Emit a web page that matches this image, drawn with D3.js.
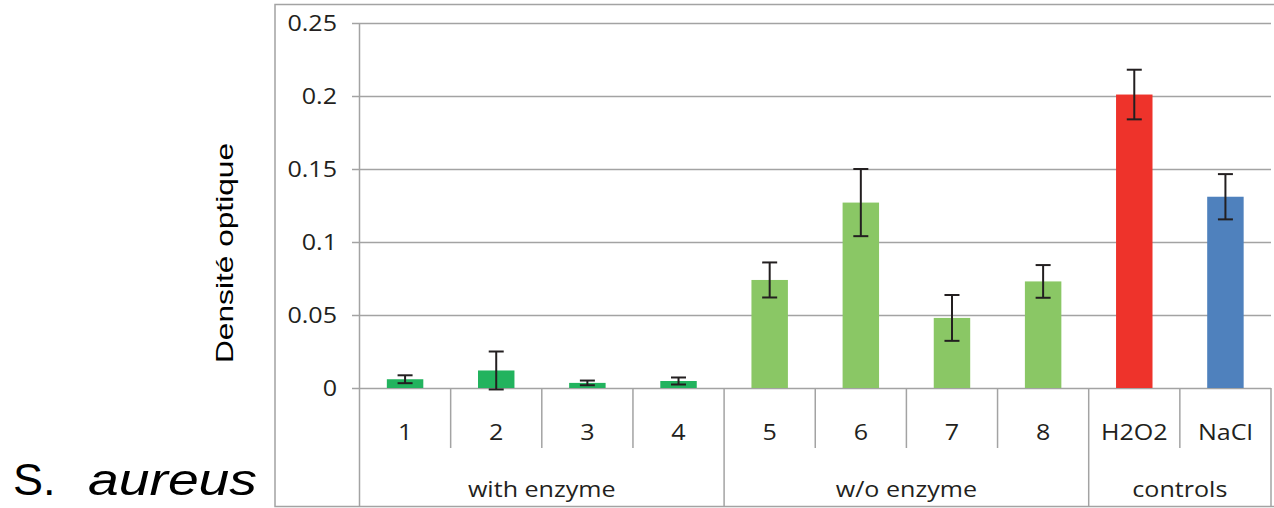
<!DOCTYPE html>
<html>
<head>
<meta charset="utf-8">
<script src="https://cdn.jsdelivr.net/npm/d3@7"></script>
<style>
  html, body { margin: 0; padding: 0; background: #fff; }
  svg { display: block; }
</style>
</head>
<body>
<svg id="chart" width="1274" height="508"></svg>
<script>
// ---- data ----
const categories = ["1", "2", "3", "4", "5", "6", "7", "8", "H2O2", "NaCl"];
const values     = [0.006, 0.012, 0.0035, 0.0048, 0.074, 0.127, 0.048, 0.073, 0.201, 0.131];
const errors     = [0.0027, 0.013, 0.0016, 0.0024, 0.012, 0.023, 0.0157, 0.0112, 0.017, 0.0155];
const groupOf    = [0, 0, 0, 0, 1, 1, 1, 1, 2, 2];
const groups     = ["with enzyme", "w/o enzyme", "controls"];
const yTicks     = [0, 0.05, 0.1, 0.15, 0.2, 0.25];
const yTickLabels = ["0", "0.05", "0.1", "0.15", "0.2", "0.25"];
const yTitle = "Densité optique";
const species = ["S.", "aureus"];

// ---- styles ----
const barColors = ["#22B35E", "#22B35E", "#22B35E", "#22B35E",
                   "#8AC765", "#8AC765", "#8AC765", "#8AC765",
                   "#EE332B", "#4F81BD"];
const gridColor = "#A3A3A3";
const textColor = "#231F20";
const labelFont = "'Open Sans', sans-serif";
const stretch = 1.14;

const svg = d3.select("#chart");

const left = 359.5, right = 1271, y0 = 388, yTop = 23;
const frameTop = 4.5, frameBottom = 506.5, frameLeft = 275;
const row1Bottom = 448;

// outer frame
svg.append("rect")
  .attr("x", frameLeft).attr("y", frameTop)
  .attr("width", 1290 - frameLeft).attr("height", frameBottom - frameTop)
  .attr("fill", "none").attr("stroke", gridColor).attr("stroke-width", 1.5);

const x = d3.scaleBand().domain(categories).range([left, right])
  .paddingInner(0.6).paddingOuter(0.3);
const step = x.step();
const y = d3.scaleLinear().domain([0, 0.25]).range([y0, yTop]);

function stretchText(sel) {
  sel.each(function () {
    const len = this.getComputedTextLength();
    d3.select(this).attr("textLength", len * stretch).attr("lengthAdjust", "spacingAndGlyphs");
  });
}

// y axis with gridlines
const yAxis = d3.axisLeft(y)
  .tickValues(yTicks)
  .tickFormat((d, i) => yTickLabels[i])
  .tickSize(-(right - 352))
  .tickPadding(15);
const ya = svg.append("g").attr("transform", "translate(352,0)").call(yAxis);
ya.select(".domain").remove();
ya.selectAll(".tick line").attr("stroke", gridColor).attr("stroke-width", 1.5);
ya.selectAll(".tick text")
  .attr("fill", textColor)
  .style("font-family", labelFont).style("font-size", "22px")
  .call(stretchText);

// y axis vertical line (extends down through category area)
svg.append("line")
  .attr("x1", left).attr("x2", left).attr("y1", yTop).attr("y2", frameBottom)
  .attr("stroke", gridColor).attr("stroke-width", 1.5);

// category dividers
const boundaries = d3.range(categories.length + 1).map(i => left + i * step);
boundaries.forEach((bx, i) => {
  if (i === 0) return;
  const isGroupEdge = i === categories.length || groupOf[i] !== groupOf[i - 1];
  svg.append("line")
    .attr("x1", bx).attr("x2", bx)
    .attr("y1", y0).attr("y2", isGroupEdge ? frameBottom : row1Bottom)
    .attr("stroke", gridColor).attr("stroke-width", 1.5);
});

// bars
svg.append("g").selectAll("rect").data(values).join("rect")
  .attr("x", (d, i) => x(categories[i]))
  .attr("width", x.bandwidth())
  .attr("y", d => y(d))
  .attr("height", d => y(0) - y(d))
  .attr("fill", (d, i) => barColors[i]);

// error bars
const eb = svg.append("g").attr("stroke", textColor).attr("stroke-width", 2);
values.forEach((v, i) => {
  const cx = x(categories[i]) + x.bandwidth() / 2;
  const hi = y(v + errors[i]), lo = y(v - errors[i]);
  eb.append("line").attr("x1", cx).attr("x2", cx).attr("y1", hi).attr("y2", lo);
  eb.append("line").attr("x1", cx - 7.5).attr("x2", cx + 7.5).attr("y1", hi).attr("y2", hi);
  eb.append("line").attr("x1", cx - 7.5).attr("x2", cx + 7.5).attr("y1", lo).attr("y2", lo);
});

// category labels
svg.append("g").selectAll("text").data(categories).join("text")
  .attr("x", d => x(d) + x.bandwidth() / 2)
  .attr("y", 440)
  .attr("text-anchor", "middle")
  .attr("fill", textColor)
  .style("font-family", labelFont).style("font-size", "22px")
  .text(d => d)
  .call(stretchText);

// group labels
svg.append("g").selectAll("text").data(groups).join("text")
  .attr("x", (g, gi) => {
    const idx = d3.range(categories.length).filter(i => groupOf[i] === gi);
    const a = left + idx[0] * step, b = left + (idx[idx.length - 1] + 1) * step;
    return (a + b) / 2;
  })
  .attr("y", 497)
  .attr("text-anchor", "middle")
  .attr("fill", textColor)
  .style("font-family", labelFont).style("font-size", "22px")
  .text(d => d)
  .call(stretchText);

// y title
svg.append("text")
  .attr("transform", "translate(233,253) rotate(-90)")
  .attr("text-anchor", "middle")
  .attr("fill", "#000")
  .style("font-family", "'Liberation Sans', Arial, sans-serif")
  .style("font-size", "24px")
  .attr("textLength", 220).attr("lengthAdjust", "spacingAndGlyphs")
  .text(yTitle);

// species label
svg.append("text")
  .attr("x", 13).attr("y", 495)
  .attr("fill", "#000")
  .style("font-family", "'Liberation Sans', Arial, sans-serif")
  .style("font-size", "45px")
  .text(species[0]);
svg.append("text")
  .attr("x", 88).attr("y", 495)
  .attr("fill", "#000")
  .style("font-family", "'Liberation Sans', Arial, sans-serif")
  .style("font-size", "45px").style("font-style", "italic")
  .attr("textLength", 169).attr("lengthAdjust", "spacingAndGlyphs")
  .text(species[1]);
</script>
</body>
</html>
